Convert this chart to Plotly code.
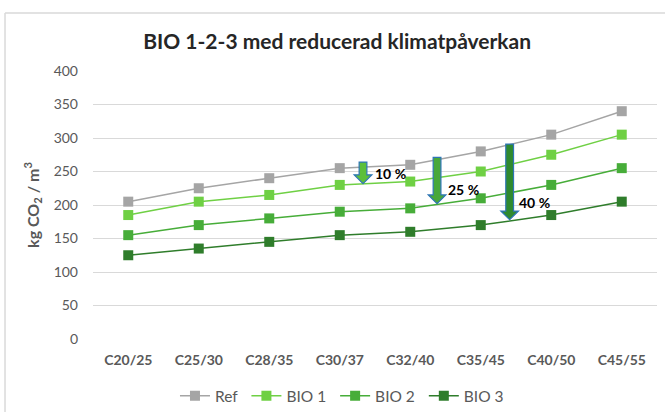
import plotly.graph_objects as go

categories = ["C20/25", "C25/30", "C28/35", "C30/37", "C32/40", "C35/45", "C40/50", "C45/55"]
ref = [205, 225, 240, 255, 260, 280, 305, 340]
bio1 = [185, 205, 215, 230, 235, 250, 275, 305]
bio2 = [155, 170, 180, 190, 195, 210, 230, 255]
bio3 = [125, 135, 145, 155, 160, 170, 185, 205]
y_ticks = [0, 50, 100, 150, 200, 250, 300, 350, 400]

# reduction arrows: (x position in category index units, top value, tip value, label)
arrow_x = [3.33, 4.38, 5.41]
arrow_top = [264, 271, 291]
arrow_tip = [232, 202, 178]
arrow_labels = ["10 %", "25 %", "40 %"]
arrow_colors = ["#5cbf3a", "#48a83a", "#2f8a2f"]
label_x = [3.47, 4.51, 5.52]
label_y = [247, 223, 203]

series = [("Ref", ref, "#a5a5a5"), ("BIO 1", bio1, "#6fd044"),
          ("BIO 2", bio2, "#47ad39"), ("BIO 3", bio3, "#2f7d2b")]

xs = list(range(len(categories)))
fig = go.Figure()
for name, vals, col in series:
    fig.add_trace(go.Scatter(x=xs, y=vals, name=name + "\u00a0", mode="lines+markers",
                             line=dict(color=col, width=1.5),
                             marker=dict(symbol="square", size=10, color=col)))

shaft_half = 0.055
head_half = 0.125
head_len = 13
for x, top, tip, col in zip(arrow_x, arrow_top, arrow_tip, arrow_colors):
    hb = tip + head_len
    path = (f"M {x-shaft_half},{top} L {x+shaft_half},{top} L {x+shaft_half},{hb} "
            f"L {x+head_half},{hb} L {x},{tip} L {x-head_half},{hb} L {x-shaft_half},{hb} Z")
    fig.add_shape(type="path", path=path, xref="x", yref="y",
                  fillcolor=col, line=dict(color="#2e75b6", width=1.2), layer="above")

for x, ly, lab in zip(label_x, label_y, arrow_labels):
    fig.add_annotation(x=x, y=ly, text=f"<b>{lab}</b>", showarrow=False,
                       xanchor="left", yanchor="middle",
                       font=dict(family="Lato, Carlito, Calibri, sans-serif", size=14, color="#000000"))

# chart border (top and left edges visible)
fig.add_shape(type="line", xref="paper", yref="paper", x0=-0.156, x1=1.02, y0=1.216, y1=1.216,
              line=dict(color="#d9d9d9", width=1.5))
fig.add_shape(type="line", xref="paper", yref="paper", x0=-0.156, x1=-0.156, y0=1.216, y1=-0.3,
              line=dict(color="#d9d9d9", width=1.5))

fig.update_layout(
    width=665, height=412,
    margin=dict(l=93, r=8, t=71, b=73, autoexpand=False),
    paper_bgcolor="white", plot_bgcolor="white",
    font=dict(family="Lato, Carlito, Calibri, sans-serif", color="#595959", size=13),
    title=dict(text="<b>BIO 1-2-3 med reducerad klimatpåverkan</b>", x=0.507, xanchor="center",
               y=0.898, yanchor="middle", font=dict(size=21, color="#262626")),
    xaxis=dict(tickmode="array", tickvals=xs, ticktext=[f"<b>{c}</b>" for c in categories],
               range=[-0.5, len(categories) - 0.5], showgrid=False, zeroline=False,
               showline=False, ticks="", automargin=False, ticklabelstandoff=11,
               tickfont=dict(size=14, color="#595959")),
    yaxis=dict(range=[0, 400], tickvals=y_ticks, showgrid=True, gridcolor="#d9d9d9",
               gridwidth=1, zeroline=False, showline=False, ticks="", ticklen=0, automargin=False,
               ticklabelstandoff=14, tickfont=dict(size=14, color="#595959"),
               title=dict(text="<b>kg CO<sub>2</sub> / m<sup>3</sup></b>", standoff=10,
                          font=dict(size=16, color="#595959"))),
    legend=dict(orientation="h", x=0.445, xanchor="center", y=-0.15, yanchor="top",
                font=dict(size=15.5, color="#595959"), itemwidth=30),
    showlegend=True,
)

fig.write_html("out.html", post_script="document.body.style.margin='0';",
               config={"displayModeBar": False})
